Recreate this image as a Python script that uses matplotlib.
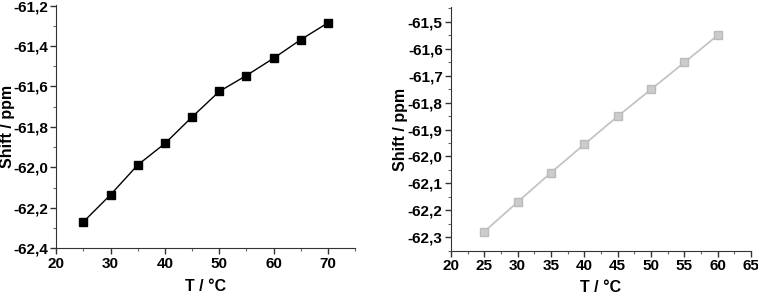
import matplotlib
matplotlib.use("Agg")
import matplotlib.pyplot as plt
from matplotlib import ticker

# data
temp_left = [25, 30, 35, 40, 45, 50, 55, 60, 65, 70]
shift_left = [-62.269, -62.135, -61.988, -61.882, -61.751, -61.625, -61.546, -61.461, -61.369, -61.286]

temp_right = [25, 30, 35, 40, 45, 50, 55, 60]
shift_right = [-62.279, -62.169, -62.060, -61.955, -61.851, -61.751, -61.651, -61.550]

plt.rcParams['font.family'] = ['Liberation Sans', 'DejaVu Sans']
plt.rcParams['font.weight'] = 'bold'

W, H = 758, 295
fig = plt.figure(figsize=(W / 100, H / 100), dpi=100)

# axes boxes in pixels: left, top, right, bottom
ax1 = fig.add_axes([56.3 / W, (H - 248.3) / H, (355 - 56.3) / W, (248.3 - 5.5) / H])
ax2 = fig.add_axes([451 / W, (H - 251) / H, (751 - 451) / W, (251 - 7) / H])

comma = ticker.FuncFormatter(lambda v, p: f"{v:.1f}".replace('.', ','))

# Left panel
ax1.plot(temp_left, shift_left, color='black', lw=1.0, marker='s', ms=5.5,
         mfc='black', mec='black')
ax1.set_xlim(20, 75)
ax1.set_ylim(-62.4, -61.2)
ax1.xaxis.set_major_locator(ticker.MultipleLocator(10))
ax1.xaxis.set_minor_locator(ticker.MultipleLocator(5))
ax1.yaxis.set_major_locator(ticker.MultipleLocator(0.2))
ax1.yaxis.set_minor_locator(ticker.MultipleLocator(0.1))

# Right panel
ax2.plot(temp_right, shift_right, color='#c4c4c4', lw=1.3, marker='s', ms=5.5,
         mfc='#cccccc', mec='#bbbbbb')
ax2.set_xlim(20, 65)
ax2.set_ylim(-62.351, -61.445)
ax2.xaxis.set_major_locator(ticker.MultipleLocator(5))
ax2.xaxis.set_minor_locator(ticker.MultipleLocator(2.5))
ax2.yaxis.set_major_locator(ticker.MultipleLocator(0.1))
ax2.yaxis.set_minor_locator(ticker.MultipleLocator(0.05))

for ax in (ax1, ax2):
    ax.spines['top'].set_visible(False)
    ax.spines['right'].set_visible(False)
    ax.spines['left'].set_color('#333333')
    ax.spines['bottom'].set_color('#333333')
    ax.yaxis.set_major_formatter(comma)
    ax.tick_params(which='major', direction='out', length=4, width=1,
                   color='#333333', labelsize=11, pad=2)
    ax.tick_params(which='minor', direction='out', length=2, width=0.8,
                   color='#666666')
    for lab in ax.get_xticklabels() + ax.get_yticklabels():
        lab.set_fontweight('bold')
    ax.set_xlabel('T / °C', fontsize=11.5, fontweight='bold')
    ax.set_ylabel('Shift / ppm', fontsize=11.5, fontweight='bold')

ax1.yaxis.set_label_coords(-0.138, 0.5)
ax1.xaxis.set_label_coords(0.5, -0.128)
ax2.yaxis.set_label_coords(-0.143, 0.5)
ax2.xaxis.set_label_coords(0.5, -0.117)

fig.savefig('out.png', dpi=100)
